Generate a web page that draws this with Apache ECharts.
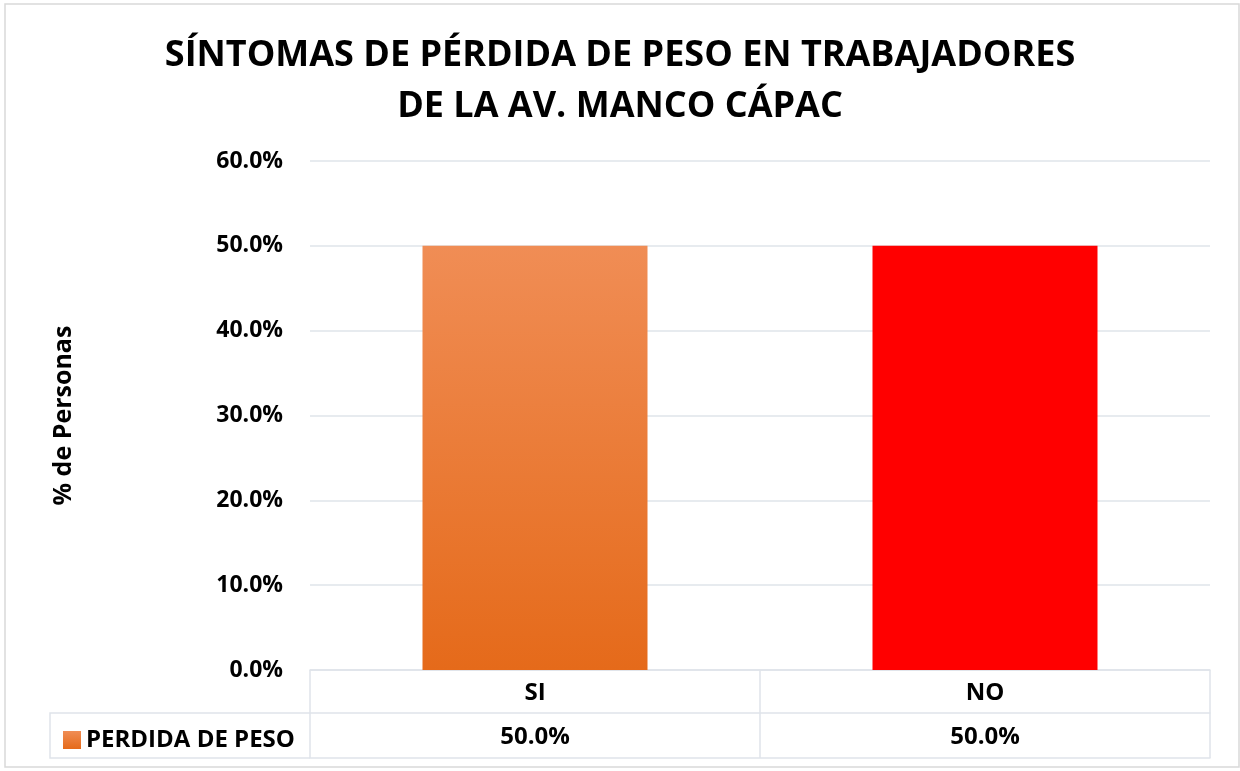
<!DOCTYPE html>
<html>
<head>
<meta charset="utf-8">
<script src="https://cdn.jsdelivr.net/npm/echarts@6/dist/echarts.min.js"></script>
<style>
html,body{margin:0;padding:0;background:#fff;}
#chart{width:1240px;height:771px;}
</style>
</head>
<body>
<div id="chart"></div>
<script>
const titleText = 'SÍNTOMAS DE PÉRDIDA DE PESO EN TRABAJADORES\nDE LA AV. MANCO CÁPAC';
const categories = ['SI', 'NO'];
const seriesName = 'PERDIDA DE PESO';
const values = [0.5, 0.5];
const yAxisName = '% de Personas';
const yTicks = { min: 0, max: 0.6, interval: 0.1 };

const FONT = '"Open Sans", "Noto Sans", sans-serif';
const LINE = '#dfe4ea';
const orangeGrad = new echarts.graphic.LinearGradient(0, 0, 0, 1, [
  { offset: 0, color: '#F08D55' },
  { offset: 1, color: '#E56A1A' }
]);
const colors = [orangeGrad, '#FF0000'];
const pct = v => (v * 100).toFixed(1) + '%';

const chart = echarts.init(document.getElementById('chart'));
chart.setOption({
  backgroundColor: '#fff',
  animation: false,
  title: {
    text: titleText,
    left: 'center',
    top: 25,
    textStyle: { fontFamily: FONT, fontWeight: 'bold', fontSize: 36, lineHeight: 51, color: '#000' }
  },
  legend: {
    data: [{ name: seriesName, itemStyle: { color: orangeGrad } }],
    left: 58,
    top: 723,
    icon: 'rect',
    itemWidth: 18,
    itemHeight: 18,
    itemGap: 6,
    textStyle: { fontFamily: FONT, fontWeight: 'bold', fontSize: 24, color: '#000' }
  },
  grid: { left: 310, right: 30, top: 161, bottom: 101, containLabel: false },
  xAxis: [
    {
      type: 'category', data: categories, position: 'bottom',
      axisLine: { show: true, lineStyle: { color: LINE, width: 1.5 } },
      axisTick: { show: true, length: 88, lineStyle: { color: LINE, width: 1.5 } },
      axisLabel: { margin: 11, fontFamily: FONT, fontWeight: 'bold', fontSize: 24, color: '#000' }
    },
    {
      type: 'category', data: categories, position: 'bottom', offset: 43,
      axisLine: { show: true, lineStyle: { color: LINE, width: 1.5 } },
      axisTick: { show: false },
      axisLabel: {
        margin: 12, fontFamily: FONT, fontWeight: 'bold', fontSize: 24, color: '#000',
        formatter: (v, i) => pct(values[i])
      }
    },
    {
      type: 'category', data: categories, position: 'bottom', offset: 88,
      axisLine: { show: true, lineStyle: { color: LINE, width: 1.5 } },
      axisTick: { show: false },
      axisLabel: { show: false }
    }
  ],
  yAxis: {
    type: 'value', min: yTicks.min, max: yTicks.max, interval: yTicks.interval,
    name: yAxisName, nameLocation: 'middle', nameRotate: 90, nameGap: 234,
    nameTextStyle: { fontFamily: FONT, fontWeight: 'bold', fontSize: 25, color: '#000' },
    axisLine: { show: false }, axisTick: { show: false },
    splitLine: { lineStyle: { color: LINE, width: 1.5 } },
    axisLabel: { margin: 27, fontFamily: FONT, fontWeight: 'bold', fontSize: 23, color: '#000', formatter: pct }
  },
  series: [{
    name: seriesName,
    type: 'bar',
    xAxisIndex: 0,
    barWidth: '50%',
    data: values.map((v, i) => ({ value: v, itemStyle: { color: colors[i] } })),
    itemStyle: { color: orangeGrad }
  }],
  graphic: [
    { type: 'rect', shape: { x: 5, y: 4, width: 1234, height: 763 }, style: { fill: 'none', stroke: '#d9d9d9', lineWidth: 1.5 }, silent: true, z: -1 },
    { type: 'polyline', shape: { points: [[310, 713], [50, 713], [50, 758], [310, 758]] }, style: { fill: 'none', stroke: LINE, lineWidth: 1.5 }, silent: true }
  ]
});
</script>
</body>
</html>
